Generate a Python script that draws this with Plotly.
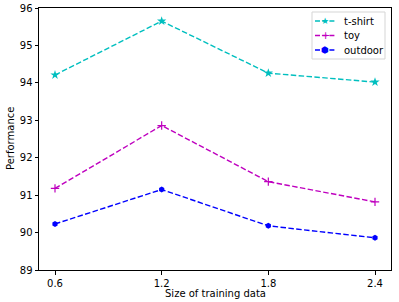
import plotly.graph_objects as go

x_vals = [0.6, 1.2, 1.8, 2.4]
tshirt = [94.21, 95.65, 94.26, 94.02]
toy = [91.18, 92.86, 91.36, 90.82]
outdoor = [90.23, 91.15, 90.18, 89.86]
y_ticks = [89, 90, 91, 92, 93, 94, 95, 96]
series_names = ["t-shirt", "toy", "outdoor"]
series_colors = ["#00BFBF", "#BF00BF", "#0000FF"]
legend_glyphs = ["★", "+", "⬢"]

W, H = 399, 302
L, R, T, B = 39, 8, 8, 32
PW, PH = W - L - R, H - T - B


def px(x):
    return (x - L) / PW


def py(y):
    return (H - B - y) / PH


dash = "5.5px,2.4px"
fig = go.Figure()
fig.add_trace(go.Scatter(x=x_vals, y=tshirt, name="t-shirt", mode="lines+markers",
                         line=dict(color=series_colors[0], width=1.4, dash=dash),
                         marker=dict(symbol="star", size=7, color=series_colors[0])))
fig.add_trace(go.Scatter(x=x_vals, y=toy, name="toy", mode="lines+markers",
                         line=dict(color=series_colors[1], width=1.4, dash=dash),
                         marker=dict(symbol="cross-thin", size=6, color=series_colors[1],
                                     line=dict(color=series_colors[1], width=1.2))))
fig.add_trace(go.Scatter(x=x_vals, y=outdoor, name="outdoor", mode="lines+markers",
                         line=dict(color=series_colors[2], width=1.4, dash=dash),
                         marker=dict(symbol="hexagon", size=6, color=series_colors[2])))

axis_common = dict(showline=True, linecolor="black", linewidth=1, mirror=True,
                   ticks="outside", ticklen=3.5, tickcolor="black", showgrid=False,
                   zeroline=False, automargin=False, tickfont=dict(size=10, color="black"))
fig.update_xaxes(range=[0.51, 2.49], tickvals=x_vals, ticktext=["0.6", "1.2", "1.8", "2.4"],
                 **axis_common)
fig.update_yaxes(range=[89, 96], tickvals=y_ticks, **axis_common)

fig.add_annotation(text="Size of training data", xref="paper", yref="paper",
                   x=0.5, y=py(293), xanchor="center", yanchor="middle",
                   showarrow=False, font=dict(size=10, color="black"))
fig.add_annotation(text="Performance", xref="paper", yref="paper",
                   x=px(10), y=0.5, xanchor="center", yanchor="middle", textangle=-90,
                   showarrow=False, font=dict(size=10, color="black"))

# manual compact legend (matplotlib style)
fig.add_shape(type="rect", xref="paper", yref="paper", x0=px(312), x1=px(385),
              y0=py(59), y1=py(12), line=dict(color="#D5D5D5", width=1),
              fillcolor="rgba(255,255,255,0.8)", layer="above")
rows_y = [21, 35.5, 50]
for name, col, glyph, ry in zip(series_names, series_colors, legend_glyphs, rows_y):
    fig.add_shape(type="line", xref="paper", yref="paper", x0=px(315), x1=px(335),
                  y0=py(ry), y1=py(ry), line=dict(color=col, width=1.4, dash="5px,2.2px"),
                  layer="above")
    fig.add_annotation(text=glyph, xref="paper", yref="paper", x=px(325), y=py(ry),
                       xanchor="center", yanchor="middle", showarrow=False,
                       font=dict(size=9 if glyph != "+" else 11, color=col))
    fig.add_annotation(text=name, xref="paper", yref="paper", x=px(342), y=py(ry),
                       xanchor="left", yanchor="middle", showarrow=False,
                       font=dict(size=10, color="black"))

fig.update_layout(width=W, height=H, margin=dict(l=L, r=R, t=T, b=B),
                  paper_bgcolor="white", plot_bgcolor="white", showlegend=False,
                  font=dict(family="DejaVu Sans", size=10, color="black"))
fig.write_html("out.html", post_script="document.body.style.margin='0px';",
               config={"displayModeBar": False})
